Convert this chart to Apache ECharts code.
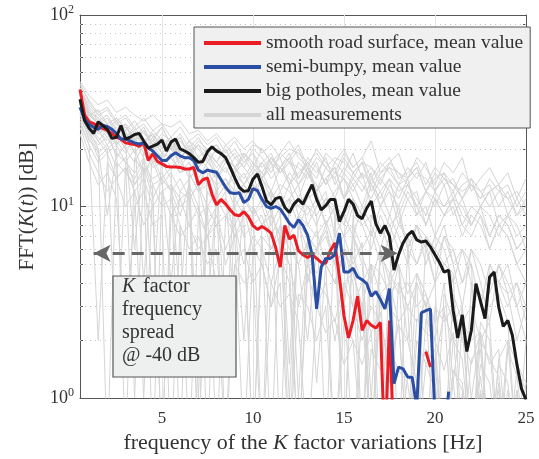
<!DOCTYPE html>
<html>
<head>
<meta charset="utf-8">
<script src="https://cdn.jsdelivr.net/npm/echarts@6/dist/echarts.min.js"></script>
<style>
  html, body { margin: 0; padding: 0; background: #fff; }
  #chart { width: 539px; height: 459px; }
</style>
</head>
<body>
<div id="chart"></div>
<script>
// frequency sampling of the curves [Hz]
const fStart = 0.5;
const fStepMean = 0.25;
const fStepAll = 0.5;

// mean spectra, one value every 0.25 Hz from 0.5 to 25 Hz (null = not plotted)
const smoothRoad = [
  40.8, 30.1, 27.7, 27.1, 26.2, 25.6, 25.0, 24.1, 23.0, 22.5,
  21.5, 21.3, 21.1, 20.6, 21.5, 17.4, 18.9, 17.2, 16.7, 16.2,
  16.1, 16.1, 16.0, 15.7, 15.7, 16.0, 13.0, 13.8, 14.1, 11.6,
  10.2, 10.9, 10.3, 9.6, 9.06, 8.95, 9.4, 8.85, 7.96, 7.6,
  7.87, 7.6, 7.27, 6.1, 4.83, 7.96, 6.77, 7.09, 5.88, 5.6,
  5.42, 5.6, 5.36, 5.11, 5.06, 5.88, 6.46, 4.29, 2.69, 2.06,
  2.54, 3.4, 2.26, 2.54, 2.4, 2.32, 2.48, 0.5, 2.54, 0.5,
  null, null, null, null, null, null, 1.75, 1.45, null, null,
  null, null, null, null, null, null, null, null, null, null,
  null, null, null, null, null, null, null, null, null
];
const semiBumpy = [
  33.0, 28.7, 26.8, 25.9, 25.3, 26.5, 26.2, 25.3, 24.1, 22.5,
  22.5, 22.0, 21.5, 21.2, 21.5, 20.2, 19.5, 18.4, 17.4, 17.4,
  18.4, 19.1, 18.4, 18.0, 18.0, 17.4, 15.5, 15.0, 15.5, 15.3,
  15.1, 13.8, 12.6, 11.8, 11.7, 11.8, 10.5, 10.9, 12.4, 12.1,
  10.9, 10.0, 9.8, 10.0, 9.71, 8.95, 8.18, 7.78, 8.54, 7.96,
  7.09, 5.6, 2.92, 4.83, 5.36, 5.36, 5.6, 7.27, 4.55, 4.55,
  4.77, 4.29, 4.15, 3.96, 3.4, 3.6, 3.28, 2.92, 3.73, 1.19,
  1.45, 1.42, 1.29, 1.28, 0.9, 2.79, 2.86, 2.92, 0.8, null,
  0.6, 1.08, null, null, null, null, null, null, null, null,
  null, null, null, null, null, null, null, null, null
];
const bigPotholes = [
  36.3, 28.1, 25.6, 24.1, 27.7, 26.5, 25.3, 22.7, 23.0, 26.5,
  22.5, 23.0, 23.8, 24.1, 22.0, 20.2, 20.7, 21.2, 22.2, 19.5,
  21.7, 22.5, 20.0, 19.5, 18.9, 18.0, 17.0, 17.2, 19.3, 20.5,
  19.5, 18.9, 18.0, 16.0, 14.1, 12.6, 12.0, 12.1, 13.9, 14.8,
  12.7, 10.7, 10.2, 11.0, 11.2, 9.9, 9.3, 10.3, 10.9, 10.3,
  11.6, 13.0, 10.9, 9.6, 10.1, 10.9, 10.9, 8.35, 9.4, 10.9,
  10.3, 8.95, 8.65, 9.8, 10.7, 8.15, 7.26, 7.96, 7.0, 4.66,
  5.6, 6.46, 7.09, 7.43, 6.69, 6.53, 6.61, 6.16, 5.6, 5.11,
  4.55, 4.66, 2.86, 2.06, 2.72, 1.75, 2.26, 3.96, 3.21, 2.6,
  4.29, 4.55, 2.99, 2.37, 2.54, 2.13, 1.5, 1.12, 0.98
];

// individual measurements, one value every 0.5 Hz from 0.5 to 25 Hz
const m1 = [45, 38, 34, 36, 31, 33, 30, 28, 30, 27, 26, 28, 24, 25, 22, 24, 21, 23, 20, 22, 19, 21, 18, 20, 19, 17, 19, 16, 18, 17, 15, 17, 16, 14, 16, 15, 13, 15, 14, 12, 14, 13, 12, 13, 11, 12, 13, 11, 12, 10];
const m2 = [38, 30, 32, 27, 29, 25, 28, 24, 22, 26, 21, 23, 19, 22, 20, 17, 21, 18, 19, 16, 20, 17, 15, 18, 21, 16, 14, 19, 17, 20, 16, 18, 22, 15, 17, 19, 14, 18, 16, 13, 17, 15, 18, 12, 14, 16, 13, 15, 11, 14];
const m3 = [34, 27, 22, 25, 18, 21, 6, 19, 16, 17, 14, 3, 15, 12, 13, 10, 12, 2.5, 11, 9, 10, 7, 9, 1.5, 8, 6, 7.5, 5, 6.5, 0.5, 7, 5.5, 4, 6, 3, 5, 0.6, 4.5, 3.5, 2, 4, 1.2, 3, 0.5, 2.5, 2, 0.4, 1.8, 1.3, 0.5];
const m4 = [30, 25, 20, 9, 19, 17, 15, 18, 13, 14, 4, 12, 11, 13, 8, 10, 11, 7, 9, 0.5, 8, 10, 6, 7, 9, 4, 6, 8, 5, 3, 7, 5, 1, 6, 4, 5, 2, 4, 3, 0.5, 3.5, 2.5, 3, 1, 2.2, 0.4, 1.6, 2, 0.5, 1.2];
const m5 = [40, 33, 29, 26, 28, 24, 22, 25, 20, 21, 23, 18, 20, 17, 19, 15, 18, 16, 14, 17, 15, 12, 16, 14, 11, 15, 13, 10, 12, 14, 11, 9, 13, 10, 12, 8, 11, 9, 10, 7, 9, 11, 8, 7, 9, 6, 8, 7, 5, 6];
const m6 = [28, 21, 2, 17, 14, 16, 12, 1, 13, 10, 11, 8, 0.5, 9, 7, 8, 5, 7, 0.5, 6, 5, 3, 5.5, 4, 0.5, 4.5, 3, 4, 2, 3.5, 0.5, 3, 2.2, 2.8, 1.2, 2.5, 0.5, 2, 1.5, 1.8, 0.5, 1.4, 1.1, 0.5, 1.3, 0.5, 1.1, 0.5, 0.5, 0.4];
const m7 = [36, 29, 26, 23, 25, 21, 23, 19, 21, 18, 20, 17, 19, 16, 18, 14, 17, 15, 13, 16, 14, 17, 12, 15, 13, 16, 12, 14, 11, 15, 13, 10, 14, 12, 9, 13, 11, 12, 8, 11, 10, 12, 9, 8, 10, 7, 9, 8, 6, 7];
const m8 = [32, 24, 19, 21, 16, 18, 13, 16, 11, 14, 12, 9, 13, 10, 3, 11, 9, 10, 7, 8, 9, 6, 8, 7, 5, 2, 6, 5, 4, 6, 4.5, 3, 5, 3.5, 0.5, 4, 3, 2.5, 3.2, 1.5, 2.8, 2, 2.4, 0.5, 2, 1.6, 1.3, 0.5, 1.1, 0.5];
const m9 = [42, 31, 27, 29, 24, 26, 22, 20, 23, 19, 21, 17, 15, 18, 16, 14, 16, 13, 15, 12, 14, 11, 13, 12, 10, 12, 9, 11, 10, 8, 11, 9, 7, 10, 8, 9, 6, 8, 7, 5, 7, 6, 4, 6, 5, 3.5, 5, 4, 3, 2];
const m10 = [31, 26, 23, 20, 22, 0.5, 18, 15, 17, 13, 15, 12, 14, 0.5, 12, 10, 11, 9, 2, 10, 8, 9, 7, 8, 1, 7, 6, 7.5, 5, 6, 4, 0.5, 5, 4.5, 3.5, 4, 3, 4, 0.5, 3, 2.5, 3, 2, 1.5, 2.2, 0.5, 1.5, 1.2, 0.5, 0.5];
const m11 = [37, 30, 27, 24, 26, 22, 24, 20, 22, 19, 21, 18, 20, 16, 19, 17, 15, 18, 16, 14, 17, 19, 15, 17, 14, 18, 16, 13, 17, 15, 19, 14, 16, 13, 17, 15, 14, 16, 12, 15, 13, 14, 11, 13, 12, 10, 12, 11, 9, 10];
const m12 = [26, 19, 15, 12, 14, 10, 12, 8, 10, 0.5, 9, 7, 8, 6, 7, 4, 0.5, 5, 6, 4, 5, 3, 4, 0.5, 3.5, 3, 2, 3, 0.5, 2.5, 2, 1.5, 2.2, 0.5, 1.8, 1.4, 1.2, 0.5, 1.5, 1.1, 0.5, 1.2, 0.5, 0.5, 1.05, 0.5, 0.5, 0.5, 0.5, 0.5];
const m13 = [35, 28, 24, 27, 21, 23, 19, 22, 17, 19, 18, 15, 17, 13, 16, 12, 14, 11, 13, 15, 10, 12, 9, 11, 13, 8, 10, 12, 7, 9, 11, 8, 6, 9, 7, 10, 6, 8, 5, 7, 6, 4, 6, 5, 3, 5, 4, 3, 4, 2.5];
const m14 = [33, 27, 25, 21, 24, 20, 17, 21, 18, 16, 19, 15, 17, 14, 0.5, 15, 13, 14, 11, 13, 12, 10, 12, 9, 11, 10, 8, 11, 9, 7, 10, 0.5, 9, 8, 6, 8, 7, 5, 7, 6, 8, 5, 6, 4, 0.5, 5, 4, 5, 3, 4];
const m15 = [44, 35, 31, 33, 28, 30, 26, 29, 25, 27, 23, 26, 22, 24, 21, 23, 19, 22, 18, 21, 20, 17, 19, 22, 18, 16, 20, 17, 15, 19, 16, 18, 14, 17, 15, 13, 16, 14, 17, 12, 15, 13, 11, 14, 12, 13, 10, 12, 9, 11];
const m16 = [29, 23, 18, 20, 1.5, 16, 14, 17, 12, 0.5, 13, 11, 12, 9, 10, 0.5, 9, 8, 10, 6, 7, 0.5, 8, 6, 5, 6.5, 1.2, 5, 4, 5.5, 3, 4, 0.5, 3.5, 4, 2.5, 3, 0.5, 2.6, 2, 1.4, 2.2, 0.5, 1.6, 1.8, 0.5, 1.2, 0.5, 1.1, 0.5];
const m17 = [39, 32, 28, 30, 25, 27, 24, 21, 25, 22, 20, 23, 18, 21, 19, 17, 20, 16, 18, 15, 17, 14, 16, 18, 13, 15, 12, 14, 16, 11, 13, 15, 10, 12, 14, 9, 12, 10, 8, 11, 9, 10, 7, 9, 8, 6, 8, 7, 5, 4];
const m18 = [24, 17, 13, 15, 11, 2, 10, 12, 8, 9, 0.5, 8, 6, 7, 5, 6, 1.5, 5, 4, 4.5, 0.5, 4, 3, 3.5, 2.5, 0.5, 3, 2.2, 2.6, 1.5, 2, 0.5, 1.8, 1.4, 1.6, 0.5, 1.3, 1.1, 0.5, 1.2, 0.5, 0.5, 1.05, 0.5, 0.5, 0.5, 0.5, 0.5, 0.5, 0.5];
const m19 = [37, 29, 24, 26, 22, 19, 23, 4, 20, 17, 18, 15, 16, 1, 15, 13, 14, 12, 13, 11, 0.5, 12, 10, 11, 8, 10, 9, 0.5, 9, 7, 8, 6, 7.5, 5, 7, 0.5, 6, 5, 6.5, 4, 5, 4.5, 0.5, 4, 3.5, 3, 3.5, 2.5, 0.5, 2];
const m20 = [34, 31, 29, 25, 27, 23, 26, 22, 24, 20, 23, 19, 22, 18, 20, 21, 17, 19, 16, 20, 18, 15, 19, 17, 20, 15, 18, 16, 14, 18, 15, 17, 13, 16, 18, 14, 15, 17, 13, 16, 14, 12, 15, 13, 11, 14, 12, 13, 10, 12];
const m21 = [31, 22, 20, 0.5, 17, 15, 13, 15, 0.5, 12, 13, 10, 11, 0.5, 10, 8, 9, 7, 8, 0.5, 7, 6, 7, 5, 0.5, 5.5, 4.5, 5, 0.5, 4, 4.5, 3, 0.5, 3.5, 3, 2.5, 0.5, 2.6, 2.2, 2, 0.5, 2, 1.6, 0.5, 1.5, 1.2, 0.5, 1.1, 0.5, 0.5];
const m22 = [41, 34, 30, 27, 29, 26, 23, 26, 21, 24, 22, 19, 22, 20, 17, 20, 18, 15, 19, 17, 14, 18, 16, 13, 17, 15, 12, 16, 14, 11, 15, 13, 11, 14, 12, 10, 13, 11, 9, 12, 10, 11, 8, 10, 9, 7, 9, 8, 6, 7];
const m23 = [27, 21, 17, 19, 14, 16, 12, 14, 10, 12, 9, 11, 8, 10, 7, 9, 6, 8, 5, 7, 6, 4, 6, 5, 3, 5, 4, 3.5, 2.5, 4, 3, 2, 3, 2.5, 1.5, 2.4, 2, 1.2, 1.8, 1.5, 0.5, 1.4, 1.2, 0.5, 1.1, 0.5, 0.5, 0.5, 0.5, 0.5];
const m24 = [36, 28, 25, 22, 24, 20, 22, 18, 3, 19, 16, 18, 14, 16, 13, 15, 2, 14, 12, 13, 11, 12, 0.5, 11, 10, 9, 11, 8, 10, 0.5, 9, 8, 9, 7, 8, 6, 7, 0.5, 7, 6, 5, 6, 4, 5, 0.5, 4.5, 4, 3.5, 4, 3];
const m25 = [43, 36, 30, 32, 27, 29, 25, 27, 23, 26, 21, 24, 20, 23, 19, 21, 18, 20, 17, 19, 16, 18, 15, 17, 16, 14, 17, 13, 15, 14, 12, 15, 13, 11, 14, 12, 13, 10, 12, 11, 9, 11, 10, 8, 10, 9, 7, 9, 8, 6];
const m26 = [33, 28, 26, 24, 21, 25, 19, 22, 20, 17, 21, 16, 19, 14, 17, 15, 12, 16, 13, 11, 14, 12, 10, 13, 9, 11, 12, 8, 10, 9, 7, 10, 8, 6, 9, 7, 5, 8, 6, 4, 7, 5, 3, 6, 4, 2.5, 5, 3.5, 2, 3];
const m27 = [38, 31, 27, 25, 28, 23, 25, 21, 24, 20, 22, 18, 21, 17, 19, 16, 18, 15, 17, 19, 14, 16, 18, 13, 15, 17, 12, 14, 16, 11, 14, 12, 15, 10, 13, 11, 14, 9, 12, 10, 13, 9, 11, 8, 10, 12, 8, 9, 7, 8];
const m28 = [30, 24, 21, 23, 19, 17, 20, 15, 18, 14, 16, 0.5, 15, 12, 14, 11, 13, 10, 12, 9, 11, 8, 10, 0.5, 9, 8, 7, 8.5, 6, 7, 5, 6.5, 0.5, 5.5, 4.5, 5, 3.5, 4.5, 3, 4, 0.5, 3.5, 2.5, 3, 2, 2.5, 0.5, 2, 1.5, 1.2];
const m29 = [35, 30, 28, 26, 23, 27, 22, 25, 21, 23, 20, 22, 19, 21, 17, 20, 18, 16, 19, 17, 15, 18, 16, 19, 14, 17, 15, 18, 13, 16, 14, 17, 12, 15, 16, 13, 14, 16, 12, 14, 15, 11, 13, 14, 10, 12, 13, 9, 11, 9];
const m30 = [32, 25, 22, 19, 21, 17, 1, 16, 14, 15, 12, 14, 11, 13, 10, 12, 0.5, 11, 9, 10, 8, 9, 7, 1, 8, 7, 6, 7, 5, 6, 5.5, 4, 5, 0.5, 4.5, 3.5, 4, 3, 3.5, 2.5, 3, 0.5, 2.5, 2, 2.2, 1.5, 1.8, 0.5, 1.4, 1.1];
const measurements = [
  m1, m2, m3, m4, m5, m6, m7, m8, m9, m10, m11, m12, m13, m14, m15,
  m16, m17, m18, m19, m20, m21, m22, m23, m24, m25, m26, m27, m28, m29, m30
];

// axes
const xTicks = [5, 10, 15, 20, 25];
const xGrid = [5, 10, 15, 20];
const yMinor = [2, 3, 4, 5, 6, 7, 8, 9, 20, 30, 40, 50, 60, 70, 80, 90];

// "K factor frequency spread" arrow
const spreadLevel = 5.7;
const spreadFrom = 1.25;
const spreadTo = 17.95;

const names = {
  smooth: 'smooth road surface, mean value',
  semi: 'semi-bumpy, mean value',
  big: 'big potholes, mean value',
  all: 'all measurements'
};

const serif = 'Liberation Serif';
const textColor = '#333';
const axisColor = '#555';
const grayColor = '#d5d5d5';

const toPairs = (vals, step) => vals.map((v, i) => [fStart + i * step, v]);

const chart = echarts.init(document.getElementById('chart'));

const meanLine = (name, vals, color) => ({
  name: name,
  type: 'line',
  data: toPairs(vals, fStepMean),
  symbol: 'none',
  z: 3,
  silent: true,
  itemStyle: { color: color },
  lineStyle: { color: color, width: 3 }
});

const grayLines = measurements.map(vals => ({
  name: names.all,
  type: 'line',
  data: toPairs(vals, fStepAll),
  symbol: 'none',
  z: 2,
  silent: true,
  itemStyle: { color: grayColor },
  lineStyle: { color: grayColor, width: 1 }
}));

const option = {
  animation: false,
  backgroundColor: '#fff',
  grid: { left: 80, right: 13, top: 15, bottom: 49 },
  legend: {
    data: [names.smooth, names.semi, names.big, names.all],
    orient: 'vertical',
    left: 194,
    top: 27,
    padding: [6, 7, 3, 10],
    itemGap: 4,
    itemWidth: 57,
    itemHeight: 4,
    icon: 'rect',
    selectedMode: false,
    backgroundColor: '#f0f0f0',
    borderColor: axisColor,
    borderWidth: 1,
    textStyle: { fontFamily: serif, fontSize: 19.5, color: textColor, lineHeight: 20 }
  },
  xAxis: [
    {
      type: 'value',
      min: 0.5,
      max: 25,
      position: 'bottom',
      name: '{r|frequency of the }{i|K}{r| factor variations [Hz]}',
      nameLocation: 'middle',
      nameGap: 26,
      nameTextStyle: {
        rich: {
          r: { fontFamily: serif, fontSize: 22, color: textColor },
          i: { fontFamily: serif, fontSize: 22, color: textColor, fontStyle: 'italic' }
        }
      },
      axisLine: { lineStyle: { color: axisColor, width: 1 } },
      axisTick: { inside: true, length: 5, customValues: xTicks, lineStyle: { color: axisColor } },
      axisLabel: { customValues: xTicks, fontFamily: serif, fontSize: 17, color: textColor, margin: 12 },
      splitLine: { show: false }
    },
    {
      type: 'value',
      min: 0.5,
      max: 25,
      position: 'top',
      axisLine: { lineStyle: { color: axisColor, width: 1 } },
      axisTick: { inside: true, length: 5, customValues: xGrid, lineStyle: { color: axisColor } },
      axisLabel: { show: false },
      splitLine: { show: false }
    }
  ],
  yAxis: [
    {
      type: 'log',
      logBase: 10,
      min: 1,
      max: 100,
      position: 'left',
      name: '{r|FFT(}{i|K}{r|(}{i|t}{r|)) [dB]}',
      nameLocation: 'middle',
      nameRotate: 90,
      nameGap: 42,
      nameTextStyle: {
        rich: {
          r: { fontFamily: serif, fontSize: 21, color: textColor },
          i: { fontFamily: serif, fontSize: 21, color: textColor, fontStyle: 'italic' }
        }
      },
      axisLine: { show: true, lineStyle: { color: axisColor, width: 1 } },
      axisTick: { inside: true, length: 6, lineStyle: { color: axisColor } },
      axisLabel: {
        margin: 6,
        formatter: v => '{b|10}{s|' + Math.round(Math.log10(v)) + '}',
        rich: {
          b: { fontFamily: serif, fontSize: 18, color: textColor, lineHeight: 22 },
          s: { fontFamily: serif, fontSize: 12, color: textColor, lineHeight: 12, verticalAlign: 'top' }
        }
      },
      splitLine: { show: true, lineStyle: { color: '#e4e4e4', width: 1 } }
    },
    {
      type: 'log',
      logBase: 10,
      min: 1,
      max: 100,
      position: 'left',
      axisLine: { show: false },
      axisTick: { inside: true, length: 3, customValues: yMinor, lineStyle: { color: axisColor } },
      axisLabel: { show: false },
      splitLine: { show: false }
    },
    {
      type: 'log',
      logBase: 10,
      min: 1,
      max: 100,
      position: 'right',
      axisLine: { show: true, lineStyle: { color: axisColor, width: 1 } },
      axisTick: { inside: true, length: 6, lineStyle: { color: axisColor } },
      axisLabel: { show: false },
      splitLine: { show: false }
    },
    {
      type: 'log',
      logBase: 10,
      min: 1,
      max: 100,
      position: 'right',
      axisLine: { show: false },
      axisTick: { inside: true, length: 3, customValues: yMinor, lineStyle: { color: axisColor } },
      axisLabel: { show: false },
      splitLine: { show: false }
    }
  ],
  series: [
    {
      // background grid: dotted minor lines and vertical major lines
      type: 'line',
      data: [],
      silent: true,
      markLine: {
        z: 1,
        silent: true,
        symbol: 'none',
        label: { show: false },
        emphasis: { disabled: true },
        data: yMinor.map(v => ({ yAxis: v, lineStyle: { color: '#c4c4c4', width: 1, type: [1, 4] } }))
          .concat(xGrid.map(v => ({ xAxis: v, lineStyle: { color: '#e4e4e4', width: 1, type: 'solid' } })))
      }
    },
    ...grayLines,
    meanLine(names.smooth, smoothRoad, '#ec1c24'),
    meanLine(names.semi, semiBumpy, '#2a4ea3'),
    meanLine(names.big, bigPotholes, '#1a1a1a'),
    {
      type: 'line',
      data: [],
      silent: true,
      z: 4,
      markLine: {
        z: 4,
        silent: true,
        symbol: ['arrow', 'arrow'],
        symbolSize: [13, 17],
        label: { show: false },
        emphasis: { disabled: true },
        lineStyle: { color: '#666', width: 3, type: [12, 7] },
        data: [[{ coord: [spreadFrom, spreadLevel] }, { coord: [spreadTo, spreadLevel] }]]
      }
    }
  ],
  graphic: [
    {
      type: 'rect',
      z: 10,
      shape: { x: 113, y: 276, width: 123, height: 101 },
      style: { fill: '#eef0ef', stroke: axisColor, lineWidth: 1.2 }
    },
    {
      type: 'text', z: 11, x: 122, y: 287,
      style: { text: 'K', font: 'italic 20px "Liberation Serif"', fill: textColor, verticalAlign: 'middle' }
    },
    {
      type: 'text', z: 11, x: 143, y: 287,
      style: { text: 'factor', font: '20px "Liberation Serif"', fill: textColor, verticalAlign: 'middle' }
    },
    {
      type: 'text', z: 11, x: 122, y: 310,
      style: { text: 'frequency', font: '20px "Liberation Serif"', fill: textColor, verticalAlign: 'middle' }
    },
    {
      type: 'text', z: 11, x: 122, y: 333,
      style: { text: 'spread', font: '20px "Liberation Serif"', fill: textColor, verticalAlign: 'middle' }
    },
    {
      type: 'text', z: 11, x: 122, y: 356,
      style: { text: '@ -40 dB', font: '20px "Liberation Serif"', fill: textColor, verticalAlign: 'middle' }
    }
  ]
};

chart.setOption(option);
window.addEventListener('resize', () => chart.resize());
</script>
</body>
</html>
